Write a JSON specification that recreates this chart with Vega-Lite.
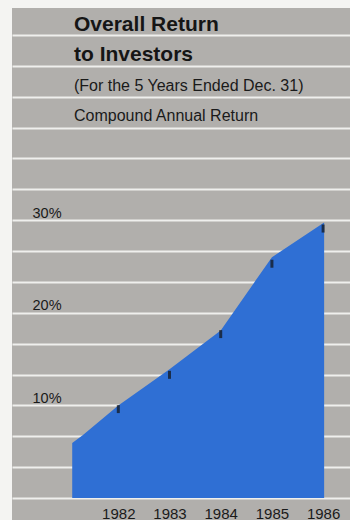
{
  "$schema": "https://vega.github.io/schema/vega-lite/v6.json",
  "width": 338,
  "height": 512,
  "autosize": "none",
  "padding": {"left": 12, "top": 8, "right": 0, "bottom": 0},
  "background": "#f4f4f2",
  "config": {
    "view": {"fill": "#b1afac", "stroke": null},
    "font": "Liberation Sans"
  },
  "title": {
    "text": ["Overall Return", "to Investors"],
    "subtitle": ["(For the 5 Years Ended Dec. 31)", "Compound Annual Return"],
    "orient": "top",
    "anchor": "start",
    "frame": "group",
    "dx": 62,
    "offset": -116,
    "font": "Liberation Sans",
    "fontSize": 21,
    "fontWeight": "bold",
    "color": "#151515",
    "lineHeight": 30,
    "subtitleFont": "Liberation Sans",
    "subtitleFontSize": 16,
    "subtitleColor": "#1a1a1a",
    "subtitleLineHeight": 30,
    "subtitlePadding": 13
  },
  "datasets": {
    "area": [
      {"year": 1981.10, "ret": 5.94},
      {"year": 1981.31, "ret": 6.8},
      {"year": 1982, "ret": 10.0},
      {"year": 1983, "ret": 13.9},
      {"year": 1984, "ret": 18.1},
      {"year": 1985, "ret": 26.0},
      {"year": 1986.02, "ret": 29.75}
    ],
    "marks": [
      {"year": 1982, "ret": 9.6},
      {"year": 1983, "ret": 13.3},
      {"year": 1984, "ret": 17.7},
      {"year": 1985, "ret": 25.3},
      {"year": 1986, "ret": 29.1}
    ]
  },
  "layer": [
    {
      "data": {"name": "area"},
      "mark": {"type": "area", "color": "#2f6fd4", "opacity": 1},
      "encoding": {
        "x": {
          "field": "year", "type": "quantitative",
          "scale": {"domain": [1979.924, 1986.525], "nice": false, "zero": false},
          "axis": {
            "values": [1982, 1983, 1984, 1985, 1986],
            "tickCount": 10,
            "format": "d",
            "title": null,
            "domain": false,
            "ticks": false,
            "tickSize": 0,
            "grid": false,
            "labelOverlap": false,
            "labelPadding": -2,
            "labelBaseline": "alphabetic",
            "labelFontSize": 15,
            "labelColor": "#1a1a1a",
            "labelFont": "Liberation Sans"
          }
        },
        "y": {
          "field": "ret", "type": "quantitative",
          "scale": {"domain": [-2.38, 52.92], "nice": false, "zero": false},
          "axis": {
            "values": [0, 3.3333, 6.6667, 10, 13.3333, 16.6667, 20, 23.3333, 26.6667, 30, 33.3333, 36.6667, 40, 43.3333, 46.6667, 50],
            "tickCount": 20,
            "labelExpr": "(datum.value == 10 || datum.value == 20 || datum.value == 30) ? datum.value + '%' : ''",
            "labelOverlap": false,
            "title": null,
            "domain": false,
            "ticks": false,
            "tickSize": 0,
            "grid": true,
            "gridColor": "#f2f2f0",
            "gridWidth": 1.8,
            "gridOpacity": 0.95,
            "labelAlign": "left",
            "labelBaseline": "alphabetic",
            "labelPadding": -20,
            "labelOffset": -3,
            "labelFontSize": 14.5,
            "labelColor": "#1a1a1a",
            "labelFont": "Liberation Sans"
          }
        },
        "y2": {"datum": 0}
      }
    },
    {
      "data": {"name": "marks"},
      "mark": {"type": "tick", "orient": "vertical", "color": "#111111", "size": 8, "thickness": 3},
      "encoding": {
        "x": {"field": "year", "type": "quantitative"},
        "y": {"field": "ret", "type": "quantitative"}
      }
    }
  ]
}
